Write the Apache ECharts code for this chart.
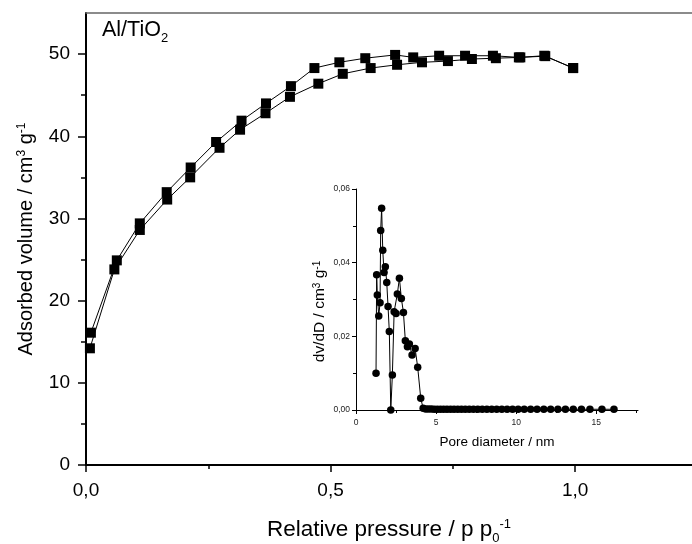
<!DOCTYPE html>
<html>
<head>
<meta charset="utf-8">
<script src="https://cdn.jsdelivr.net/npm/echarts@6/dist/echarts.min.js"></script>
<style>
  html, body { margin: 0; padding: 0; background: #fff; }
  #J_chart { width: 692px; height: 544px; }
</style>
</head>
<body>
<div id="J_chart"></div>
<script>
'use strict';

// isotherm, adsorption branch (lower)
var pressureAds = [0.008, 0.058, 0.110, 0.166, 0.213, 0.273, 0.315, 0.367, 0.417, 0.475, 0.525, 0.582, 0.636, 0.687, 0.740, 0.789, 0.838, 0.888, 0.939, 0.996];
var volumeAds = [14.2, 23.8, 28.6, 32.3, 35.0, 38.6, 40.8, 42.8, 44.8, 46.4, 47.6, 48.3, 48.7, 49.0, 49.15, 49.4, 49.5, 49.6, 49.75, 48.3];
// isotherm, desorption branch (upper)
var pressureDes = [0.996, 0.937, 0.885, 0.832, 0.775, 0.722, 0.669, 0.632, 0.571, 0.518, 0.467, 0.419, 0.368, 0.318, 0.266, 0.214, 0.165, 0.110, 0.063, 0.010];
var volumeDes = [48.3, 49.8, 49.6, 49.8, 49.8, 49.8, 49.6, 49.9, 49.5, 49.0, 48.3, 46.1, 44.0, 41.9, 39.3, 36.2, 33.2, 29.4, 24.9, 16.1];

// pore size distribution (inset)
var poreDiameter = [1.25, 1.29, 1.33, 1.42, 1.50, 1.54, 1.60, 1.67, 1.75, 1.83, 1.92, 2.00, 2.08, 2.17, 2.27, 2.38, 2.50, 2.58, 2.71, 2.83, 2.96, 3.08, 3.21, 3.33, 3.50, 3.69, 3.85, 4.04, 4.19,
  4.35, 4.52, 4.70, 4.88, 5.07, 5.27, 5.47, 5.68, 5.90, 6.12, 6.35, 6.58, 6.82, 7.07, 7.33, 7.60, 7.88, 8.17, 8.47, 8.78, 9.10, 9.43, 9.77, 10.12, 10.50, 10.90, 11.30, 11.72, 12.15, 12.60, 13.07, 13.56, 14.07, 14.60, 15.35, 16.10];
var poreVolume = [0.0100, 0.0367, 0.0312, 0.0255, 0.0291, 0.0487, 0.0548, 0.0434, 0.0373, 0.0389, 0.0346, 0.0281, 0.0213, 0.0000, 0.0095, 0.0267, 0.0262, 0.0315, 0.0358, 0.0303, 0.0265, 0.0188, 0.0172, 0.0179, 0.0149, 0.0167, 0.0116, 0.0032, 0.0005,
  0.0003, 0.0003, 0.0003, 0.0002, 0.0002, 0.0002, 0.0002, 0.0002, 0.0002, 0.0002, 0.0002, 0.0002, 0.0002, 0.0002, 0.0002, 0.0002, 0.0002, 0.0002, 0.0002, 0.0002, 0.0002, 0.0002, 0.0002, 0.0002, 0.0002, 0.0002, 0.0002, 0.0002, 0.0002, 0.0002, 0.0002, 0.0002, 0.0002, 0.0002, 0.0002, 0.0002];

// tick labels
var pressureTicks = [0, 0.5, 1.0];
var pressureMinorTicks = [0.25, 0.75];
var volumeTicks = [0, 10, 20, 30, 40, 50];
var volumeMinorTicks = [5, 15, 25, 35, 45];
var diameterTicks = [0, 5, 10, 15];
var diameterMinorTicks = [2.5, 7.5, 12.5, 17.5];

var isothermChart = {
  font: 'Liberation Sans, Arial, sans-serif',
  pairs: function(xs, ys){
    var out = [];
    for (var i = 0; i < xs.length; i++) {
      out.push([xs[i], ys[i]]);
    }
    return out;
  },
  comma: function(digits){
    return function(v){
      return Number(v).toFixed(digits).replace('.', ',');
    };
  },
  // rich styles: base text, subscript, superscript
  rich: function(size, small, subDrop){
    var font = this.font;
    return {
      b: { fontSize: size, fontFamily: font, color: '#000', verticalAlign: 'top' },
      sub: { fontSize: small, fontFamily: font, color: '#000', verticalAlign: 'top', lineHeight: 4, padding: [subDrop, 0, 0, 0] },
      sup: { fontSize: small, fontFamily: font, color: '#000', verticalAlign: 'top', lineHeight: 4 }
    };
  },
  build: function(){
    var me = this;
    var font = me.font;
    return {
      backgroundColor: '#fff',
      animation: false,
      title: {
        text: '{b|Al/TiO}{sub|2}',
        left: 102,
        top: 19,
        padding: 0,
        textStyle: { fontSize: 21.5, fontWeight: 'normal', color: '#000', fontFamily: font, rich: me.rich(21.5, 13, 13) }
      },
      grid: [
        { left: 86, right: 0, top: 13, bottom: 79, outerBoundsMode: 'none' },
        { left: 356, top: 189, width: 282, height: 221, outerBoundsMode: 'none' }
      ],
      xAxis: [
        {
          type: 'value', gridIndex: 0, position: 'bottom', min: 0, max: 1.239,
          name: '{b|Relative pressure / p p}{sub|0}{sup|-1}',
          nameLocation: 'middle', nameGap: 53,
          nameTextStyle: { fontSize: 22.5, color: '#000', fontFamily: font, rich: me.rich(22.5, 13, 14) },
          axisLine: { onZero: false, lineStyle: { color: '#000', width: 2 } },
          axisTick: { customValues: pressureTicks, length: 7, lineStyle: { color: '#000', width: 1.5 } },
          axisLabel: { customValues: pressureTicks, formatter: me.comma(1), fontSize: 19, color: '#000', fontFamily: font, margin: 16 },
          splitLine: { show: false }
        },
        {
          type: 'value', gridIndex: 0, position: 'bottom', min: 0, max: 1.239,
          axisLine: { show: false },
          axisTick: { customValues: pressureMinorTicks, length: 4, lineStyle: { color: '#000', width: 1.5 } },
          axisLabel: { show: false },
          splitLine: { show: false }
        },
        {
          type: 'value', gridIndex: 0, position: 'top', min: 0, max: 1.239,
          axisLine: { onZero: false, lineStyle: { color: '#666', width: 1.5 } },
          axisTick: { show: false },
          axisLabel: { show: false },
          splitLine: { show: false }
        },
        {
          type: 'value', gridIndex: 1, position: 'bottom', min: 0, max: 17.6,
          name: 'Pore diameter / nm',
          nameLocation: 'middle', nameGap: 25,
          nameTextStyle: { fontSize: 13.5, color: '#000', fontFamily: font },
          axisLine: { onZero: false, lineStyle: { color: '#000', width: 1 } },
          axisTick: { customValues: diameterTicks, length: 4, lineStyle: { color: '#000' } },
          axisLabel: { customValues: diameterTicks, fontSize: 8.5, color: '#222', fontFamily: font, margin: 8 },
          splitLine: { show: false }
        },
        {
          type: 'value', gridIndex: 1, position: 'bottom', min: 0, max: 17.6,
          axisLine: { show: false },
          axisTick: { customValues: diameterMinorTicks, length: 3, lineStyle: { color: '#000' } },
          axisLabel: { show: false },
          splitLine: { show: false }
        }
      ],
      yAxis: [
        {
          type: 'value', gridIndex: 0, position: 'left', min: 0, max: 55,
          name: '{b|Adsorbed volume / cm}{sup|3}{b| g}{sup|-1}',
          nameLocation: 'middle', nameGap: 50, nameRotate: 90,
          nameTextStyle: { fontSize: 20, color: '#000', fontFamily: font, rich: me.rich(20, 12, 12) },
          axisLine: { onZero: false, lineStyle: { color: '#000', width: 2 } },
          axisTick: { customValues: volumeTicks, length: 8, lineStyle: { color: '#000', width: 1.5 } },
          axisLabel: { customValues: volumeTicks, fontSize: 19, color: '#000', fontFamily: font, margin: 16 },
          splitLine: { show: false }
        },
        {
          type: 'value', gridIndex: 0, position: 'left', min: 0, max: 55,
          axisLine: { show: false },
          axisTick: { customValues: volumeMinorTicks, length: 5, lineStyle: { color: '#000', width: 1.5 } },
          axisLabel: { show: false },
          splitLine: { show: false }
        },
        {
          type: 'value', gridIndex: 1, position: 'left', min: 0, max: 0.06, interval: 0.02,
          name: '{b|dv/dD / cm}{sup|3}{b| g}{sup|-1}',
          nameLocation: 'middle', nameGap: 28, nameRotate: 90,
          nameTextStyle: { fontSize: 15.5, color: '#000', fontFamily: font, padding: [0, 24, 0, 0], rich: me.rich(15.5, 10, 9) },
          axisLine: { onZero: false, lineStyle: { color: '#000', width: 1 } },
          axisTick: { length: 4, lineStyle: { color: '#000' } },
          minorTick: { show: true, splitNumber: 2, length: 3, lineStyle: { color: '#000' } },
          axisLabel: { formatter: me.comma(2), fontSize: 8.5, color: '#222', fontFamily: font, margin: 6 },
          splitLine: { show: false }
        }
      ],
      series: [
        {
          name: 'adsorption', type: 'line', xAxisIndex: 0, yAxisIndex: 0,
          data: me.pairs(pressureAds, volumeAds),
          symbol: 'rect', symbolSize: 10,
          itemStyle: { color: '#000' },
          lineStyle: { color: '#000', width: 1 }
        },
        {
          name: 'desorption', type: 'line', xAxisIndex: 0, yAxisIndex: 0,
          data: me.pairs(pressureDes, volumeDes),
          symbol: 'rect', symbolSize: 10,
          itemStyle: { color: '#000' },
          lineStyle: { color: '#000', width: 1 }
        },
        {
          name: 'psd', type: 'line', xAxisIndex: 3, yAxisIndex: 2,
          data: me.pairs(poreDiameter, poreVolume),
          symbol: 'circle', symbolSize: 7.5,
          itemStyle: { color: '#000' },
          lineStyle: { color: '#000', width: 1 }
        }
      ]
    };
  },
  init: function(){
    var me = this;
    var chart = echarts.init(document.getElementById('J_chart'), null, { renderer: 'canvas' });
    chart.setOption(me.build());
    return me;
  }
};

isothermChart.init();
</script>
</body>
</html>
